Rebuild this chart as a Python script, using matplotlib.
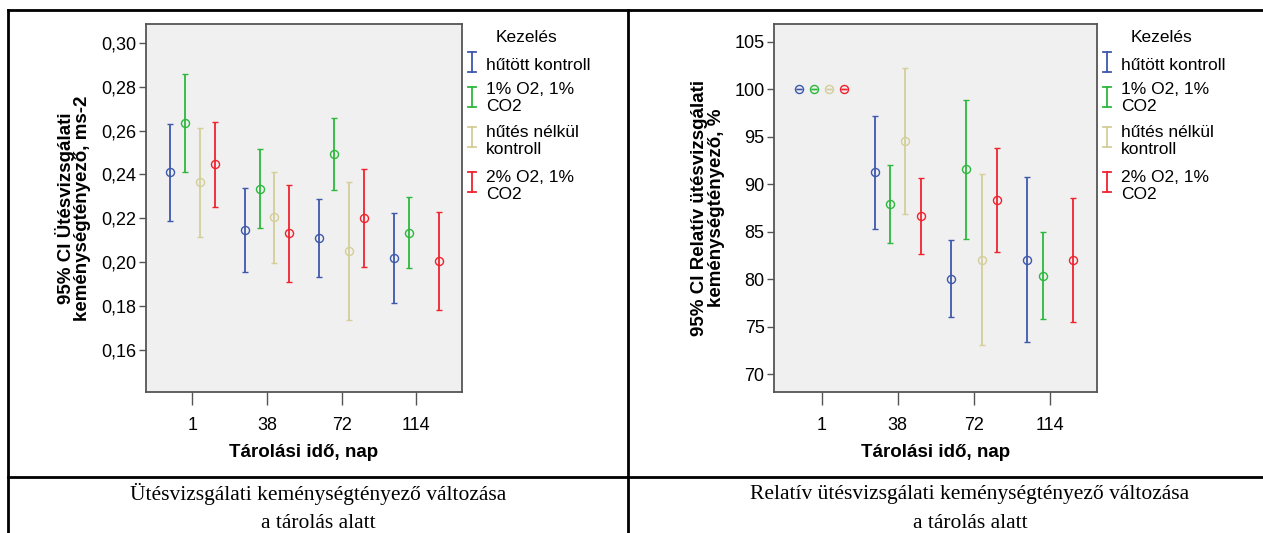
import numpy as np
import matplotlib
matplotlib.use("Agg")
import matplotlib.pyplot as plt
from matplotlib.lines import Line2D
from matplotlib.ticker import FuncFormatter

plt.rcParams['font.family'] = ['Liberation Sans', 'DejaVu Sans']

days = ["1", "38", "72", "114"]
treatments = ["hűtött kontroll", "1% O2, 1%\nCO2", "hűtés nélkül\nkontroll", "2% O2, 1%\nCO2"]
colors = ["#3E58AC", "#2DB83D", "#D4CE98", "#F0222E"]

# Ütésvizsgálati keménységtényező (mean, lower CI, upper CI) - per treatment, per day
abs_mean = [[0.2410, 0.2147, 0.2112, 0.2021],
            [0.2637, 0.2336, 0.2494, 0.2135],
            [0.2366, 0.2204, 0.2053, np.nan],
            [0.2448, 0.2132, 0.2201, 0.2006]]
abs_low = [[0.2188, 0.1956, 0.1934, 0.1816],
           [0.2412, 0.2158, 0.2328, 0.1973],
           [0.2117, 0.1997, 0.1738, np.nan],
           [0.2254, 0.1909, 0.1977, 0.1781]]
abs_high = [[0.2631, 0.2340, 0.2290, 0.2226],
            [0.2860, 0.2515, 0.2658, 0.2296],
            [0.2614, 0.2410, 0.2368, np.nan],
            [0.2641, 0.2354, 0.2427, 0.2228]]

# Relatív ütésvizsgálati keménységtényező, %
rel_mean = [[100, 91.24, 80.08, 82.04],
            [100, 87.90, 91.56, 80.35],
            [100, 94.57, 82.04, np.nan],
            [100, 86.64, 88.29, 82.08]]
rel_low = [[100, 85.27, 76.00, 73.40],
           [100, 83.87, 84.25, 75.79],
           [100, 86.85, 73.09, np.nan],
           [100, 82.67, 82.85, 75.51]]
rel_high = [[100, 97.21, 84.14, 90.78],
            [100, 92.00, 98.89, 84.99],
            [100, 102.26, 91.03, np.nan],
            [100, 90.68, 93.77, 88.60]]

offsets = [-0.3, -0.1, 0.1, 0.3]

W, H = 1263, 533
fig = plt.figure(figsize=(W / 100, H / 100), dpi=100)


def px(x, y):
    return x / W, 1 - y / H


def draw_panel(ax, mean, low, high):
    ax.set_facecolor("#F0F0F0")
    x = np.arange(len(days))
    for i in range(len(treatments)):
        m = np.array(mean[i], dtype=float)
        lo = np.array(low[i], dtype=float)
        hi = np.array(high[i], dtype=float)
        ax.errorbar(x + offsets[i], m, yerr=[m - lo, hi - m], fmt="o",
                    color=colors[i], mfc="none", mec=colors[i], ms=5.8, mew=1.0,
                    elinewidth=1.3, capsize=2.2, capthick=1.3)
    ax.set_xticks(x)
    ax.set_xticklabels(days)
    ax.set_xlim(-0.62, 3.61)
    for s in ax.spines.values():
        s.set_color("#555555")
        s.set_linewidth(1.3)
    ax.tick_params(axis="y", length=5, width=1, color="#555555", labelsize=13, pad=2)
    ax.tick_params(axis="x", length=9, width=1, color="#555555", labelsize=13, pad=9)
    ax.set_xlabel("Tárolási idő, nap", fontsize=13.5, fontweight="bold", labelpad=7)


ax1 = fig.add_axes([146 / W, 1 - 392 / H, 316 / W, (392 - 24.3) / H])
draw_panel(ax1, abs_mean, abs_low, abs_high)
ax1.set_ylim(0.1408, 0.3085)
ax1.set_yticks([0.16, 0.18, 0.20, 0.22, 0.24, 0.26, 0.28, 0.30])
ax1.yaxis.set_major_formatter(FuncFormatter(lambda v, p: f"{v:.2f}".replace(".", ",")))
ax1.set_ylabel("95% CI Ütésvizsgálati\nkeménységtényező, ms-2", fontsize=13.5,
               fontweight="bold", linespacing=0.95, labelpad=7)

ax2 = fig.add_axes([774.3 / W, 1 - 392 / H, (1096.7 - 774.3) / W, (392 - 24.3) / H])
draw_panel(ax2, rel_mean, rel_low, rel_high)
ax2.set_ylim(68.14, 106.83)
ax2.set_yticks([70, 75, 80, 85, 90, 95, 100, 105])
ax2.set_ylabel("95% CI Relatív ütésvizsgálati\nkeménységtényező, %", fontsize=13.5,
               fontweight="bold", linespacing=0.95, labelpad=7)


def draw_legend(x_icon, x_text):
    fig.text(*px(x_text + 10, 38), "Kezelés", fontsize=12.5, va="center", ha="left")
    rows = [(62, 66), (97, 98), (137, 141), (182, 186)]
    for i, (yc, yt) in enumerate(rows):
        x0, y0 = px(x_icon, yc - 10)
        _, y1 = px(x_icon, yc + 10)
        hw = 4 / W
        fig.add_artist(Line2D([x0, x0], [y0, y1], color=colors[i], lw=1.3, transform=fig.transFigure))
        fig.add_artist(Line2D([x0 - hw, x0 + hw], [y0, y0], color=colors[i], lw=1.3, transform=fig.transFigure))
        fig.add_artist(Line2D([x0 - hw, x0 + hw], [y1, y1], color=colors[i], lw=1.3, transform=fig.transFigure))
        fig.text(*px(x_text, yt), treatments[i], fontsize=12.5, va="center", ha="left",
                 linespacing=1.1)


draw_legend(472, 486)
draw_legend(1107, 1121)

# table borders
lw = 2
fig.add_artist(Line2D([8 / W, 1], [1 - 10 / H, 1 - 10 / H], color="black", lw=lw, transform=fig.transFigure))
fig.add_artist(Line2D([8 / W, 1], [1 - 477 / H, 1 - 477 / H], color="black", lw=lw, transform=fig.transFigure))
fig.add_artist(Line2D([8 / W, 8 / W], [0, 1 - 10 / H], color="black", lw=lw, transform=fig.transFigure))
fig.add_artist(Line2D([628 / W, 628 / W], [0, 1 - 10 / H], color="black", lw=lw, transform=fig.transFigure))

fig.text(*px(318, 494), "Ütésvizsgálati keménységtényező változása", fontsize=15.5,
         family="Liberation Serif", ha="center", va="center")
fig.text(*px(318, 523), "a tárolás alatt", fontsize=15.5,
         family="Liberation Serif", ha="center", va="center")
fig.text(*px(970, 494), "Relatív ütésvizsgálati keménységtényező változása", fontsize=15.5,
         family="Liberation Serif", ha="center", va="center")
fig.text(*px(970, 523), "a tárolás alatt", fontsize=15.5,
         family="Liberation Serif", ha="center", va="center")

fig.savefig("out.png", dpi=100, facecolor="white")
